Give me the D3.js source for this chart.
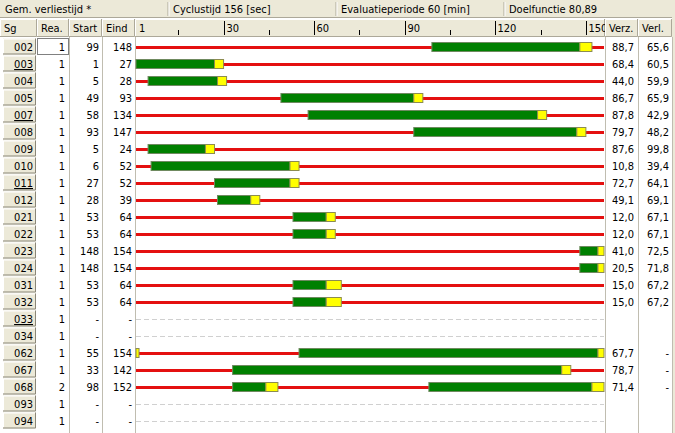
<!DOCTYPE html>
<html><head><meta charset="utf-8">
<script src="https://cdn.jsdelivr.net/npm/d3@7"></script>
<style>
html,body{margin:0;padding:0;background:#ffffff;}
svg{display:block;font-family:"DejaVu Sans Condensed","Liberation Sans",sans-serif;font-stretch:condensed;font-size:11px;}
</style></head>
<body>
<script>
// ---- data ----
const headerInfo = ["Gem. verliestijd *", "Cyclustijd 156 [sec]", "Evaluatieperiode 60 [min]", "Doelfunctie 80,89"];
const columns = ["Sg", "Rea.", "Start", "Eind", "Verz.", "Verl."];
const sg = ["002","003","004","005","007","008","009","010","011","012","021","022","023","024","031","032","033","034","062","067","068","093","094"];
const underlined = ["003","007","011","033"];
const rea = [1,1,1,1,1,1,1,1,1,1,1,1,1,1,1,1,1,1,1,1,2,1,1];
const start = [99,1,5,49,58,93,5,6,27,28,53,53,148,148,53,53,null,null,55,33,98,null,null];
const eind = [148,27,28,93,134,147,24,52,52,39,64,64,154,154,64,64,null,null,154,142,152,null,null];
const verz = ["88,7","68,4","44,0","86,7","87,8","79,7","87,6","10,8","72,7","49,1","12,0","12,0","41,0","20,5","15,0","15,0","","","67,7","78,7","71,4","",""];
const verl = ["65,6","60,5","59,9","65,9","42,9","48,2","99,8","39,4","64,1","69,1","67,1","67,1","72,5","71,8","67,2","67,2","","","-","-","-","",""];
// green phases per row [from, to] in seconds
const greens = [[[99,148]],[[1,27]],[[5,28]],[[49,93]],[[58,134]],[[93,147]],[[5,24]],[[6,52]],[[27,52]],[[28,39]],[[53,64]],[[53,64]],[[148,154]],[[148,154]],[[53,64]],[[53,64]],[],[],[[55,154]],[[33,142]],[[33,44],[98,152]],[],[]];
const amber = [4,3,3,3,3,3,3,3,3,3,3,3,2,2,5,5,0,0,3,3,4,0,0];
const cycle = 156;
const majorTicks = [30,60,90,120,150];
const minorTicks = [15,45,75,105,135];

// ---- layout ----
const W = 675, H = 433;
const colX = {sg:[0,37], rea:[37,69], start:[69,102], eind:[102,135], tl:[135,605], verz:[605,638], verl:[638,672]};
const bodyTop = 38, rowH = 17;
const x = d3.scaleLinear().domain([1, cycle]).range([136, 604]);
const y = d3.scaleBand().domain(sg).range([bodyTop, bodyTop + rowH*sg.length]);

const svg = d3.select("body").append("svg").attr("width", W).attr("height", H);
const beige = "#ece9d8", dark = "#aca899", sep = "#c0bdb0";

svg.append("rect").attr("width", W).attr("height", H).attr("fill", "#fff");
svg.append("rect").attr("x", 672).attr("width", 3).attr("height", H).attr("fill", beige);

// top info row
svg.append("rect").attr("width", 672).attr("height", 18).attr("fill", beige);
const infoX = [0, 168, 336, 504];
infoX.forEach((px, i) => {
  if (i > 0) {
    svg.append("line").attr("x1", px).attr("x2", px).attr("y1", 2).attr("y2", 16).attr("stroke", dark);
    svg.append("line").attr("x1", px+1).attr("x2", px+1).attr("y1", 2).attr("y2", 16).attr("stroke", "#fff");
  }
  svg.append("text").attr("x", px + 5).attr("y", 13).text(headerInfo[i]);
});
svg.append("line").attr("x1", 0).attr("x2", 672).attr("y1", 17.5).attr("y2", 17.5).attr("stroke", dark);

// header cells
function cell3d(x0, x1, y0, y1) {
  svg.append("rect").attr("x", x0).attr("y", y0).attr("width", x1-x0).attr("height", y1-y0).attr("fill", beige);
  svg.append("path").attr("d", `M${x0+0.5},${y1-1}V${y0+0.5}H${x1-1}`).attr("stroke", "#fff").attr("fill", "none");
  svg.append("path").attr("d", `M${x0},${y1-0.5}H${x1-0.5}V${y0}`).attr("stroke", dark).attr("fill", "none");
}
const hy0 = 19, hy1 = 37;
const hdrCells = [["sg",columns[0]],["rea",columns[1]],["start",columns[2]],["eind",columns[3]],["tl",""],["verz",columns[4]],["verl",columns[5]]];
hdrCells.forEach(([k, label]) => {
  cell3d(colX[k][0], colX[k][1], hy0, hy1);
  if (label) svg.append("text").attr("x", colX[k][0] + 4).attr("y", 32).text(label);
});
// timeline header ticks
svg.append("clipPath").attr("id", "tlclip").append("rect").attr("x", 135).attr("y", hy0).attr("width", 470).attr("height", hy1-hy0);
const th = svg.append("g").attr("clip-path", "url(#tlclip)");
th.append("text").attr("x", 139).attr("y", 32).text("1");
majorTicks.forEach(t => {
  const px = Math.round(x(t)) + 0.5;
  th.append("line").attr("x1", px).attr("x2", px).attr("y1", 21).attr("y2", 35).attr("stroke", "#000");
  th.append("text").attr("x", px + 2).attr("y", 32).text(t);
});
minorTicks.forEach(t => {
  const px = Math.round(x(t)) + 0.5;
  th.append("line").attr("x1", px).attr("x2", px).attr("y1", 30).attr("y2", 35).attr("stroke", "#000");
});

// body column separators
[69, 102, 135, 605, 638, 672].forEach(px => {
  svg.append("line").attr("x1", px+0.5).attr("x2", px+0.5).attr("y1", hy1).attr("y2", H).attr("stroke", sep);
});

// rows
sg.forEach((s, i) => {
  const top = y(s), cy = top + rowH/2, base = top + 13;
  // Sg button
  const bx0 = 3, bx1 = 36, by0 = top + 0.5, by1 = top + rowH - 0.5;
  svg.append("rect").attr("x", bx0).attr("y", by0).attr("width", bx1-bx0).attr("height", by1-by0).attr("fill", beige);
  svg.append("path").attr("d", `M${bx0+0.5},${by1-1}V${by0+0.5}H${bx1-1}`).attr("stroke", "#fff").attr("fill", "none");
  svg.append("path").attr("d", `M${bx0},${by1-0.5}H${bx1-0.5}V${by0}`).attr("stroke", "#8a8678").attr("fill", "none");
  svg.append("text").attr("x", 33).attr("y", base).attr("text-anchor", "end")
    .attr("text-decoration", underlined.includes(s) ? "underline" : null).text(s);
  // numbers
  svg.append("text").attr("x", 65).attr("y", base).attr("text-anchor", "end").text(rea[i]);
  svg.append("text").attr("x", 99).attr("y", base).attr("text-anchor", "end").text(start[i] == null ? "-" : start[i]);
  svg.append("text").attr("x", 132).attr("y", base).attr("text-anchor", "end").text(eind[i] == null ? "-" : eind[i]);
  svg.append("text").attr("x", 634).attr("y", base).attr("text-anchor", "end").text(verz[i]);
  svg.append("text").attr("x", 669).attr("y", base).attr("text-anchor", "end").text(verl[i]);

  const g = svg.append("g");
  if (start[i] == null) {
    g.append("line").attr("x1", x(1)).attr("x2", x(cycle)).attr("y1", Math.round(cy)+0.5).attr("y2", Math.round(cy)+0.5)
      .attr("stroke", "#d0d0d0").attr("stroke-dasharray", "5,3");
    return;
  }
  g.append("rect").attr("x", x(1)).attr("y", Math.round(cy) - 1).attr("width", x(cycle) - x(1)).attr("height", 3).attr("fill", "#e41010");
  const bh = 9, by = Math.round(cy) - 4.5;
  greens[i].forEach(([a, b]) => {
    g.append("rect").attr("x", x(a)).attr("y", by).attr("width", x(b) - x(a)).attr("height", bh)
      .attr("fill", "#008000").attr("stroke", "#6f8a60").attr("stroke-width", 1);
    let e = b + amber[i];
    const segs = e > cycle ? [[b, cycle], [1, 1 + e - cycle]] : [[b, e]];
    segs.forEach(([p, q]) => {
      g.append("rect").attr("x", x(p)).attr("y", by).attr("width", x(q) - x(p)).attr("height", bh)
        .attr("fill", "#ffff00").attr("stroke", "#8c8c50").attr("stroke-width", 1);
    });
  });
});
// focus rectangle on first Rea cell
svg.append("rect").attr("x", 37.5).attr("y", bodyTop + 0.5).attr("width", 31).attr("height", rowH - 1)
  .attr("fill", "none").attr("stroke", "#000").attr("stroke-dasharray", "1,1");
</script>
</body></html>
